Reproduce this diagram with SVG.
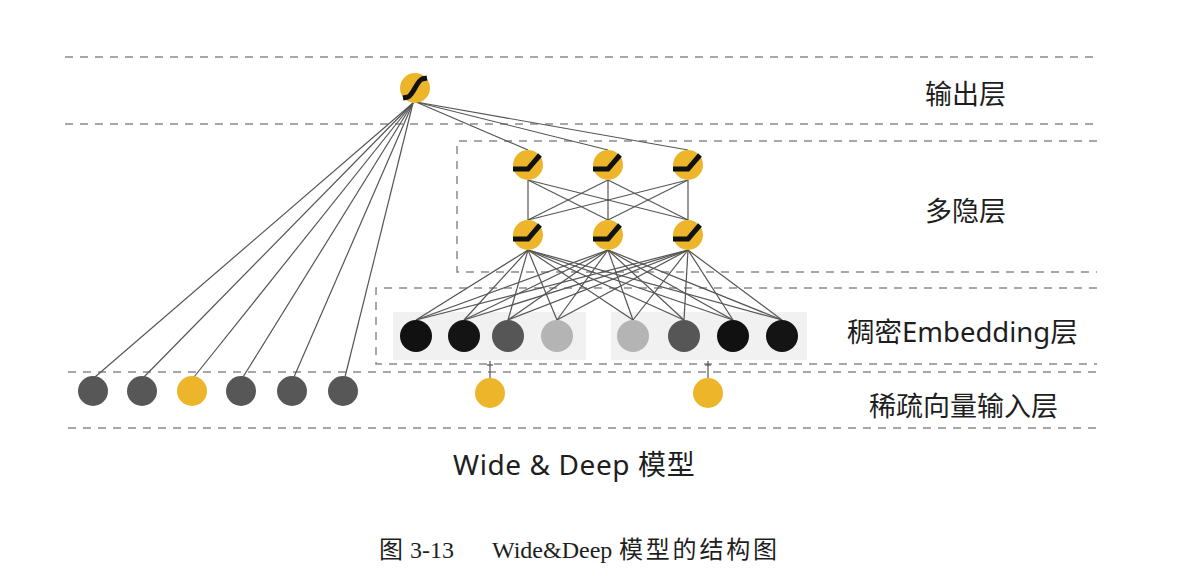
<svg xmlns="http://www.w3.org/2000/svg" width="1187" height="576" viewBox="0 0 1187 576">
<style>
.dash{fill:none;stroke:#8a8a8a;stroke-width:1.5;stroke-dasharray:8 7}
.conn line{stroke:#555;stroke-width:1.2}
.y{fill:#EDB62A}
.act{fill:none;stroke:#111;stroke-width:5;stroke-linejoin:miter}
.lbl{font-family:"Noto Sans","Noto Sans CJK SC",sans-serif;font-size:27px;fill:#1e1e1e}
.cap{font-family:"Liberation Serif","Noto Sans CJK SC",serif;font-size:24px;fill:#1e1e1e}
.bg{fill:#f1f1f1}
</style>
<defs>
<g id="relu"><circle r="15" class="y"/><path class="act" d="M-15,4 H0 L12,-10"/></g>
<g id="sig"><circle r="15" class="y"/><path class="act" d="M-12,10 L-7,9 C-2,7 2,-7 7,-9 L12,-10"/></g>
</defs>
<rect width="1187" height="576" fill="#fff"/>

<g id="guides">
<path class="dash" d="M65,57 H1097"/>
<path class="dash" d="M65,124 H1097"/>
<path class="dash" d="M1097,141 H457 V272 H1097"/>
<path class="dash" d="M1097,288 H376 V364 H1097"/>
<path class="dash" d="M68,372 H1097"/>
<path class="dash" d="M68,428 H1097"/>
</g>

<rect class="bg" x="393" y="312" width="193" height="48"/>
<rect class="bg" x="611" y="312" width="196" height="48"/>

<g id="connectors" class="conn">
<line x1="413" y1="103" x2="95" y2="377"/>
<line x1="413" y1="103" x2="144" y2="377"/>
<line x1="413" y1="103" x2="194" y2="377"/>
<line x1="413" y1="103" x2="243" y2="377"/>
<line x1="413" y1="103" x2="294" y2="377"/>
<line x1="413" y1="103" x2="345" y2="377"/>
<line x1="416" y1="102" x2="528" y2="150"/>
<line x1="416" y1="102" x2="608" y2="150"/>
<line x1="416" y1="102" x2="688" y2="150"/>
<line x1="528" y1="180" x2="528" y2="220"/>
<line x1="528" y1="180" x2="608" y2="220"/>
<line x1="528" y1="180" x2="688" y2="220"/>
<line x1="608" y1="180" x2="528" y2="220"/>
<line x1="608" y1="180" x2="608" y2="220"/>
<line x1="608" y1="180" x2="688" y2="220"/>
<line x1="688" y1="180" x2="528" y2="220"/>
<line x1="688" y1="180" x2="608" y2="220"/>
<line x1="688" y1="180" x2="688" y2="220"/>
<line x1="528" y1="250" x2="416" y2="320"/>
<line x1="528" y1="250" x2="464" y2="320"/>
<line x1="528" y1="250" x2="508" y2="320"/>
<line x1="528" y1="250" x2="557" y2="320"/>
<line x1="528" y1="250" x2="633" y2="320"/>
<line x1="528" y1="250" x2="684" y2="320"/>
<line x1="528" y1="250" x2="733" y2="320"/>
<line x1="528" y1="250" x2="782" y2="320"/>
<line x1="608" y1="250" x2="416" y2="320"/>
<line x1="608" y1="250" x2="464" y2="320"/>
<line x1="608" y1="250" x2="508" y2="320"/>
<line x1="608" y1="250" x2="557" y2="320"/>
<line x1="608" y1="250" x2="633" y2="320"/>
<line x1="608" y1="250" x2="684" y2="320"/>
<line x1="608" y1="250" x2="733" y2="320"/>
<line x1="608" y1="250" x2="782" y2="320"/>
<line x1="688" y1="250" x2="416" y2="320"/>
<line x1="688" y1="250" x2="464" y2="320"/>
<line x1="688" y1="250" x2="508" y2="320"/>
<line x1="688" y1="250" x2="557" y2="320"/>
<line x1="688" y1="250" x2="633" y2="320"/>
<line x1="688" y1="250" x2="684" y2="320"/>
<line x1="688" y1="250" x2="733" y2="320"/>
<line x1="688" y1="250" x2="782" y2="320"/>
<line x1="490" y1="378" x2="490" y2="361"/>
<line x1="487" y1="365" x2="493" y2="365"/>
<line x1="708" y1="378" x2="708" y2="361"/>
<line x1="705" y1="365" x2="711" y2="365"/>
</g>

<g id="out"><use href="#sig" x="415" y="88"/></g>
<g id="h1a"><use href="#relu" x="528" y="165"/></g>
<g id="h1b"><use href="#relu" x="608" y="165"/></g>
<g id="h1c"><use href="#relu" x="688" y="165"/></g>
<g id="h2a"><use href="#relu" x="528" y="235"/></g>
<g id="h2b"><use href="#relu" x="608" y="235"/></g>
<g id="h2c"><use href="#relu" x="688" y="235"/></g>

<g id="e1"><circle cx="416" cy="336" r="16" fill="#111"/></g>
<g id="e2"><circle cx="464" cy="336" r="16" fill="#141414"/></g>
<g id="e3"><circle cx="508" cy="336" r="16" fill="#565656"/></g>
<g id="e4"><circle cx="557" cy="336" r="16" fill="#b4b4b4"/></g>
<g id="e5"><circle cx="633" cy="336" r="16" fill="#b4b4b4"/></g>
<g id="e6"><circle cx="684" cy="336" r="16" fill="#565656"/></g>
<g id="e7"><circle cx="733" cy="336" r="16" fill="#111"/></g>
<g id="e8"><circle cx="782" cy="336" r="16" fill="#141414"/></g>

<g id="s1"><circle cx="93" cy="391" r="15" fill="#575757"/></g>
<g id="s2"><circle cx="142" cy="391" r="15" fill="#575757"/></g>
<g id="s3"><circle cx="192" cy="391" r="15" class="y"/></g>
<g id="s4"><circle cx="241" cy="391" r="15" fill="#575757"/></g>
<g id="s5"><circle cx="292" cy="391" r="15" fill="#575757"/></g>
<g id="s6"><circle cx="343" cy="391" r="15" fill="#575757"/></g>
<g id="s7"><circle cx="490" cy="393" r="15" class="y"/></g>
<g id="s8"><circle cx="708" cy="393" r="15" class="y"/></g>

<g id="labels">
<text class="lbl" x="925" y="104">输出层</text>
<text class="lbl" x="925" y="221">多隐层</text>
<text class="lbl" x="847" y="342" style="font-size:27.5px">稠密Embedding层</text>
<text class="lbl" x="869" y="416">稀疏向量输入层</text>
<text class="lbl" x="453" y="475" style="font-size:28px;letter-spacing:0.6px">Wide &amp; Deep 模型</text>
<text class="cap" y="558"><tspan x="379">图</tspan><tspan x="410">3-13</tspan><tspan x="492">Wide&amp;Deep</tspan><tspan x="619" style="letter-spacing:2.8px">模型的结构图</tspan></text>
</g>
</svg>
